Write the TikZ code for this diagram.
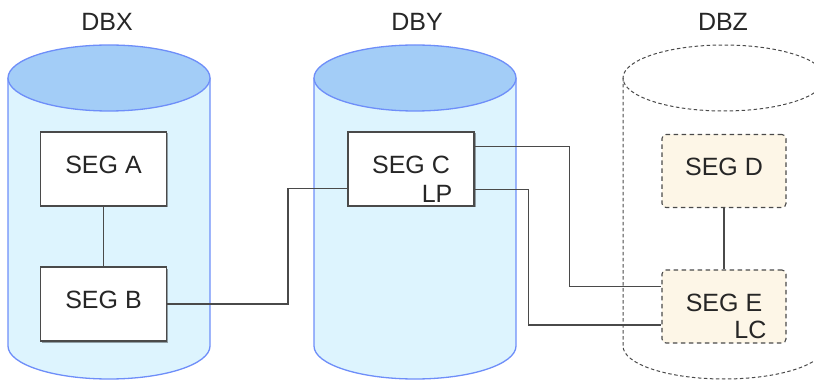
\documentclass[tikz,border=0pt]{standalone}
\usepackage{fontspec}
\setmainfont{Liberation Sans}
\usetikzlibrary{positioning,calc,shadows}
\definecolor{dbtop}{HTML}{A3CDF7}
\definecolor{dbbody}{HTML}{DDF4FE}
\definecolor{dbedge}{HTML}{6E8EF9}
\definecolor{segcream}{HTML}{FDF6E7}
\definecolor{linegray}{HTML}{4A4A4A}
\newcommand{\segfont}{\fontsize{25}{30}\selectfont}

\begin{document}
\begin{tikzpicture}[x=1pt,y=-1pt,
  dbwall/.style={draw=dbedge,line width=1.3pt},
  dbghost/.style={draw=linegray,line width=1pt,dash pattern=on 3.5pt off 2.5pt},
  dblabel/.style={font=\segfont,text=black!85},
  segbase/.style={draw=linegray,line width=1.1pt,minimum width=126pt,minimum height=74pt,
    inner sep=0pt,text depth=8pt,font=\segfont,text=black!85},
  segbox/.style={segbase,fill=white,
    drop shadow={shadow xshift=1.5pt,shadow yshift=-1.5pt,opacity=0.35,fill=black}},
  segdash/.style={segbase,fill=segcream,rounded corners=4pt,
    dash pattern=on 4.5pt off 3.5pt,minimum width=124pt,minimum height=73pt},
  lnk/.style={font=\segfont,text=black!85,inner sep=0pt,anchor=base east},
  conn/.style={draw=linegray,line width=1.5pt}]
\clip (0,0) rectangle (814,382);
% database cylinders
\draw[dbwall,fill=dbbody] (8,78) -- (8,346) arc[start angle=180,end angle=360,x radius=101pt,y radius=33pt] -- (210,78);
\draw[dbwall,fill=dbtop] (109,78) ellipse[x radius=101pt,y radius=33pt];
\draw[dbwall,fill=dbbody] (314,78) -- (314,346) arc[start angle=180,end angle=360,x radius=101pt,y radius=33pt] -- (516,78);
\draw[dbwall,fill=dbtop] (415,78) ellipse[x radius=101pt,y radius=33pt];
% DBZ only drawn dashed
\draw[dbghost] (623,78) -- (623,346) arc[start angle=180,end angle=360,x radius=101pt,y radius=33pt] -- (825,78);
\draw[dbghost] (724,78) ellipse[x radius=101pt,y radius=33pt];
\node[dblabel] (dbx) at (107,22) {DBX};
\node[dblabel] (dby) at (417,22) {DBY};
\node[dblabel] (dbz) at (723,22) {DBZ};
% segments
\node[segbox] (sega) at (103.5,169) {SEG A};
\node[segbox] (segb) at (103.5,304) {SEG B};
\node[segbox,label={[lnk,xshift=-22pt,yshift=4pt]south east:LP}] (segc) at (411,169) {SEG C};
\node[segdash] (segd) at (724,171) {SEG D};
\node[segdash,label={[lnk,xshift=-20pt,yshift=5pt]south east:LC}] (sege) at (724,306.5) {SEG E};
% links
\draw[conn] (sega) -- (segb);
\draw[conn] (segd) -- (sege);
\draw[conn] (segb.east) -- ++(121,0) |- ($(segc.south west)!0.24!(segc.north west)$);
\draw[conn] ($(segc.north east)!0.2!(segc.south east)$) -- ++(95,0) |- ($(sege.north west)!0.23!(sege.south west)$);
\draw[conn] ($(segc.north east)!0.77!(segc.south east)$) -- ++(54,0) |- ($(sege.north west)!0.75!(sege.south west)$);
\end{tikzpicture}
\end{document}
